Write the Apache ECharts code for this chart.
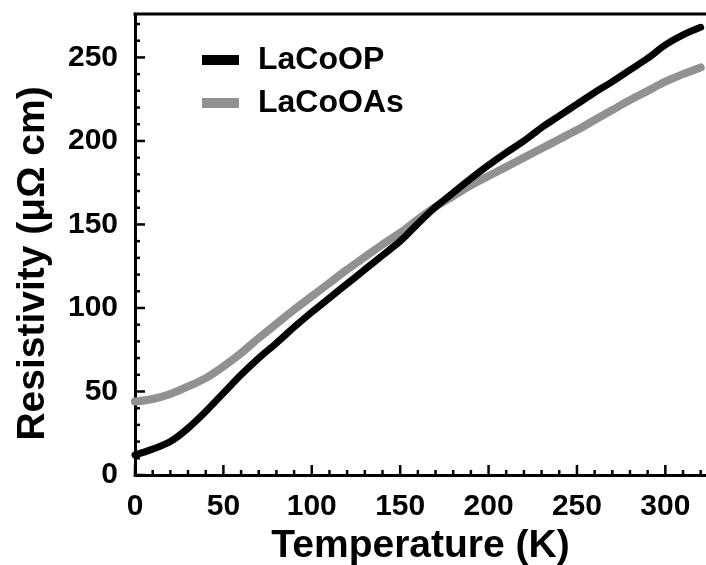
<!DOCTYPE html>
<html>
<head>
<meta charset="utf-8">
<script src="https://cdn.jsdelivr.net/npm/echarts@6/dist/echarts.min.js"></script>
<style>
    html, body { margin: 0; padding: 0; background: #fff; }
    #chart { width: 706px; height: 565px; }
</style>
</head>
<body>
<div id="chart"></div>
<script>
// temperature (K)
const temps = [0, 10, 20, 30, 40, 50, 60, 70, 80, 90, 100, 110, 120, 130, 140, 150, 160,
    170, 180, 190, 200, 210, 220, 230, 240, 250, 260, 270, 280, 290, 300, 310, 320];
// resistivity (uOhm cm)
const lacoop = [12, 15.5, 20, 28, 38, 49, 60, 70, 79, 88.5, 97.5, 106, 114.5, 123, 131.5, 140, 150.5,
    160.5, 169, 177.5, 185.5, 193, 200, 208, 215, 222, 229, 235.5, 242.5, 249.5, 257.5, 263.5, 268];
const lacooas = [44, 45.5, 48.5, 53, 58, 65, 73, 82, 90.5, 99, 107, 115, 123, 130.5, 138, 145, 153,
    160.5, 167, 173.5, 179, 184.5, 190, 195.5, 201, 206.5, 212.5, 218.5, 224.5, 230, 235.5, 240, 244];
const seriesNames = ['LaCoOP', 'LaCoOAs'];

// tick values
const xMajor = [0, 50, 100, 150, 200, 250, 300];
const xMinor = [10, 20, 30, 40, 60, 70, 80, 90, 110, 120, 130, 140, 160, 170, 180, 190,
    210, 220, 230, 240, 260, 270, 280, 290, 310, 320];
const yMajor = [0, 50, 100, 150, 200, 250];
const yMinor = [10, 20, 30, 40, 60, 70, 80, 90, 110, 120, 130, 140, 160, 170, 180, 190,
    210, 220, 230, 240, 260, 270];

const font = '"Liberation Sans", Arial, sans-serif';
const grey = '#919191';
const xMax = 323;
const yMax = 276;

const pair = (xs, ys) => xs.map((x, i) => [x, ys[i]]);

let mychart = echarts.init(document.getElementById('chart'));

const labelStyle = {
    showMaxLabel: false,
    fontFamily: font,
    fontWeight: 'bold',
    fontSize: 30,
    color: '#000'
};
const nameStyle = { fontFamily: font, fontWeight: 'bold', fontSize: 39, color: '#000' };

let option = {
    animation: false,
    grid: { left: 135, right: 0, top: 14, bottom: 90, outerBoundsMode: 'none' },
    legend: {
        orient: 'vertical',
        left: 197,
        top: 39,
        itemWidth: 37,
        itemHeight: 10,
        itemGap: 11,
        icon: 'rect',
        textStyle: {
            fontFamily: font,
            fontWeight: 'bold',
            fontSize: 32,
            color: '#000',
            padding: [0, 0, 0, 14]
        },
        data: seriesNames
    },
    xAxis: {
        type: 'value',
        position: 'bottom',
        min: 0,
        max: xMax,
        interval: 50,
        name: 'Temperature (K)',
        nameLocation: 'middle',
        nameGap: 30,
        nameTextStyle: nameStyle,
        axisLine: { show: true, onZero: false, lineStyle: { color: '#000', width: 3 } },
        axisTick: { show: false },
        axisLabel: Object.assign({ show: true, margin: 17 }, labelStyle),
        splitLine: { show: false }
    },
    yAxis: {
        type: 'value',
        position: 'left',
        min: 0,
        max: yMax,
        interval: 50,
        name: 'Resistivity (μΩ cm)',
        nameLocation: 'middle',
        nameGap: 82,
        nameTextStyle: Object.assign({ padding: [0, 38, 0, 0] }, nameStyle),
        axisLine: { show: true, onZero: false, lineStyle: { color: '#000', width: 3 } },
        axisTick: { show: false },
        axisLabel: Object.assign({ show: true, margin: 17 }, labelStyle),
        splitLine: { show: false }
    },
    series: [
        {
            name: seriesNames[1],
            type: 'line',
            data: pair(temps, lacooas),
            smooth: 0.3,
            showSymbol: false,
            itemStyle: { color: grey },
            lineStyle: { color: grey, width: 8, cap: 'round' }
        },
        {
            name: seriesNames[0],
            type: 'line',
            data: pair(temps, lacoop),
            smooth: 0.3,
            showSymbol: false,
            itemStyle: { color: '#000' },
            lineStyle: { color: '#000', width: 7, cap: 'round' }
        }
    ]
};

mychart.setOption(option);

// ticks + top frame, placed through the chart's own axis scales
const xPx = (v) => mychart.convertToPixel({ xAxisIndex: 0 }, v);
const yPx = (v) => mychart.convertToPixel({ yAxisIndex: 0 }, v);
const x0 = xPx(0);
const y0 = yPx(0);
let marks = [];
const tick = (x1, y1, x2, y2) => marks.push({
    type: 'line',
    shape: { x1: x1, y1: y1, x2: x2, y2: y2 },
    style: { stroke: '#000', lineWidth: 2.5 },
    z: 100
});
xMajor.forEach(v => tick(xPx(v), y0, xPx(v), y0 - 10));
xMinor.forEach(v => tick(xPx(v), y0, xPx(v), y0 - 5));
yMajor.forEach(v => tick(x0, yPx(v), x0 + 10, yPx(v)));
yMinor.forEach(v => tick(x0, yPx(v), x0 + 5, yPx(v)));

marks.push({
    type: 'line',
    shape: { x1: x0 - 1.5, y1: yPx(yMax), x2: xPx(xMax), y2: yPx(yMax) },
    style: { stroke: '#000', lineWidth: 3 },
    z: 100
});

mychart.setOption({ graphic: { elements: marks } });
</script>
</body>
</html>
